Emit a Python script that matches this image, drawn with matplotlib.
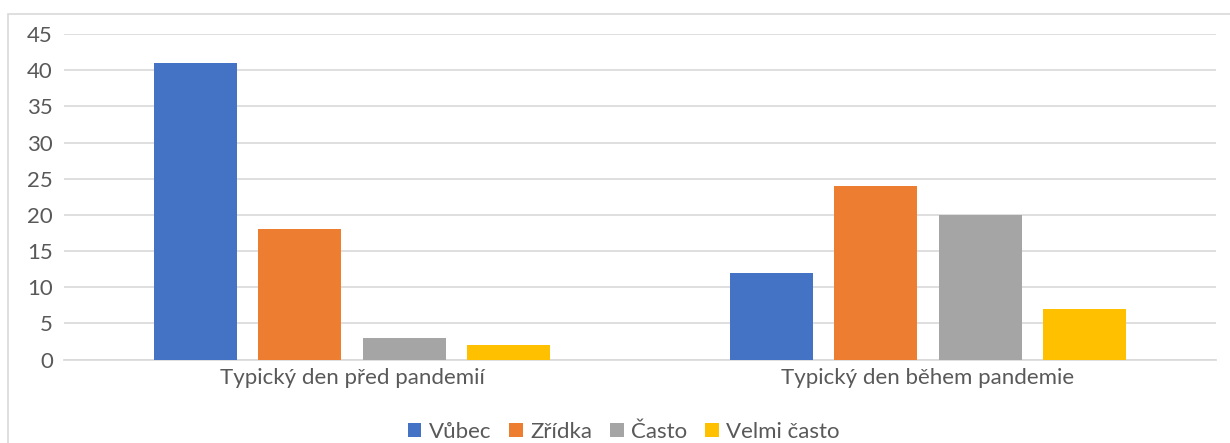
import matplotlib
matplotlib.use('Agg')
import matplotlib.pyplot as plt
import numpy as np
from matplotlib.patches import Rectangle

categories = ['Typický den před pandemií', 'Typický den během pandemie']
series = ['Vůbec', 'Zřídka', 'Často', 'Velmi často']
values = {
    'Vůbec': [41, 12],
    'Zřídka': [18, 24],
    'Často': [3, 20],
    'Velmi často': [2, 7],
}
colors = ['#4472C4', '#ED7D31', '#A5A5A5', '#FFC000']

plt.rcParams['font.family'] = ['Lato', 'DejaVu Sans']
text_color = '#595959'
grid_color = '#D9D9D9'

fig = plt.figure(figsize=(12.3, 4.43), dpi=100)
ax = fig.add_axes([64 / 1230, 1 - 359.5 / 443, 1152 / 1230, 325.5 / 443])

x = np.arange(len(categories))
width = 83 / 576
pitch = 104.3 / 576
for i, (name, c) in enumerate(zip(series, colors)):
    offs = (i - 1.5) * pitch
    ax.bar(x + offs, values[name], width=width, color=c, label=name, zorder=3)

ax.set_xlim(-0.5, 1.5)
ax.set_ylim(0, 45)
ax.set_yticks(np.arange(0, 46, 5))
ax.set_xticks(x)
ax.set_xticklabels(categories)
ax.grid(axis='y', color=grid_color, lw=1.2, zorder=0)
for s in ['top', 'right', 'left']:
    ax.spines[s].set_visible(False)
ax.spines['bottom'].set_color(grid_color)
ax.spines['bottom'].set_linewidth(1.2)
ax.tick_params(axis='both', length=0, colors=text_color, labelsize=16)
ax.tick_params(axis='y', pad=8)
ax.tick_params(axis='x', pad=6)

leg = fig.legend(loc='center', bbox_to_anchor=(624 / 1230, 1 - 432 / 443), ncol=4,
                 frameon=False, fontsize=16, handlelength=0.6, handleheight=0.6,
                 handletextpad=0.35, columnspacing=0.8)
for t in leg.get_texts():
    t.set_color(text_color)

# chart border (Excel chart area), cropped at right and bottom
fig.patches.append(Rectangle((7.5 / 1230, -0.1), 1.2, 1 - 13.5 / 443 + 0.1,
                             transform=fig.transFigure, fill=False,
                             edgecolor=grid_color, lw=1.2))

fig.savefig('out.png', dpi=100)
